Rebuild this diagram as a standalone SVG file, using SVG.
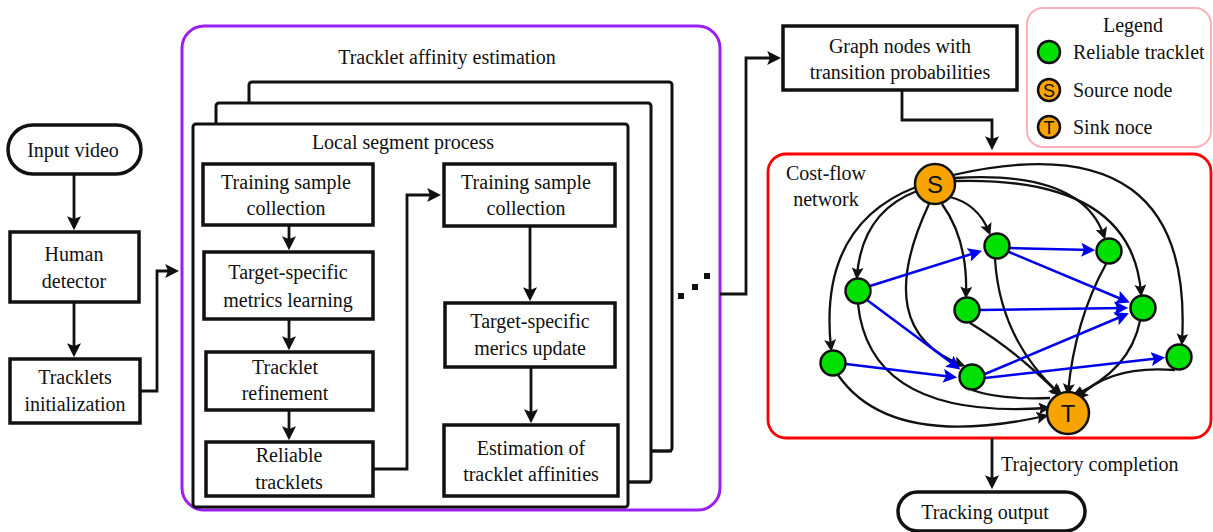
<svg xmlns="http://www.w3.org/2000/svg" width="1213" height="532" viewBox="0 0 1213 532">
<defs>
<style>
text{font-family:"Liberation Serif","Times New Roman",serif;font-size:20px;fill:#111;text-anchor:middle}
.box{fill:#fff;stroke:#111;stroke-width:3.5}
.frame{fill:#fff;stroke:#111;stroke-width:3}
.ln{fill:none;stroke:#111;stroke-width:2.8}
.ge{fill:none;stroke:#111;stroke-width:2.3}
.be{fill:none;stroke:#0000ee;stroke-width:2.5}
.green{fill:#00e000;stroke:#111;stroke-width:2.5}
.orange{fill:#f7a400;stroke:#111;stroke-width:2.5}
.nl{font-family:"Liberation Sans",Arial,sans-serif;font-size:24px}
.ll{font-family:"Liberation Sans",Arial,sans-serif;font-size:18px}
.st{text-anchor:start}
</style>
<marker id="ah" viewBox="0 0 10 10" refX="7" refY="5" markerWidth="14" markerHeight="14" markerUnits="userSpaceOnUse" orient="auto"><path d="M0,0 L10,5 L0,10 L2,5 z" fill="#111"/></marker>
<marker id="gh" viewBox="0 0 10 10" refX="7" refY="5" markerWidth="12" markerHeight="12" markerUnits="userSpaceOnUse" orient="auto"><path d="M0,0 L10,5 L0,10 L2,5 z" fill="#111"/></marker>
<marker id="bh" viewBox="0 0 10 10" refX="7" refY="5" markerWidth="14" markerHeight="14" markerUnits="userSpaceOnUse" orient="auto"><path d="M0,0 L10,5 L0,10 L2,5 z" fill="#0000ee"/></marker>
</defs>
<rect width="1213" height="532" fill="#fff"/>

<g id="tracklet-affinity">
<rect x="182" y="26" width="538" height="484" rx="22" fill="#fff" stroke="#9a1ff0" stroke-width="3"/>
<text x="447" y="64">Tracklet affinity estimation</text>
<rect class="frame" x="249" y="82" width="423" height="369" rx="3"/>
<rect class="frame" x="216" y="103" width="435" height="379" rx="3"/>
<rect class="frame" x="193" y="124" width="435" height="383" rx="3"/>
<text x="403" y="149">Local segment process</text>
<rect x="678" y="293" width="6" height="6" fill="#111"/>
<rect x="692" y="284" width="6" height="6" fill="#111"/>
<rect x="704" y="273" width="6" height="6" fill="#111"/>
</g>

<g id="input-video">
<rect class="box" x="8" y="125" width="133" height="49" rx="24.5" stroke-width="3"/>
<text x="73" y="157">Input video</text>
</g>
<g id="human-detector">
<rect class="box" x="10" y="232" width="129" height="70"/>
<text x="74" y="261">Human</text>
<text x="74" y="288">detector</text>
</g>
<g id="tracklets-init">
<rect class="box" x="10" y="359" width="130" height="64"/>
<text x="75" y="384">Tracklets</text>
<text x="75" y="411">initialization</text>
</g>

<g id="training1">
<rect class="box" x="203" y="164" width="170" height="61"/>
<text x="286" y="189">Training sample</text>
<text x="286" y="215">collection</text>
</g>
<g id="metrics-learning">
<rect class="box" x="204" y="252" width="169" height="67"/>
<text x="288" y="279">Target-specific</text>
<text x="288" y="307">metrics learning</text>
</g>
<g id="tracklet-refinement">
<rect class="box" x="206" y="352" width="167" height="58"/>
<text x="285" y="374">Tracklet</text>
<text x="285" y="400">refinement</text>
</g>
<g id="reliable-tracklets">
<rect class="box" x="206" y="442" width="167" height="54"/>
<text x="289" y="462">Reliable</text>
<text x="289" y="489">tracklets</text>
</g>
<g id="training2">
<rect class="box" x="444" y="164" width="171" height="62"/>
<text x="526" y="189">Training sample</text>
<text x="526" y="215">collection</text>
</g>
<g id="metrics-update">
<rect class="box" x="445" y="303" width="170" height="64"/>
<text x="530" y="328">Target-specific</text>
<text x="530" y="355">merics update</text>
</g>
<g id="estimation">
<rect class="box" x="444" y="425" width="174" height="71"/>
<text x="531" y="455">Estimation of</text>
<text x="531" y="481">tracklet affinities</text>
</g>

<g id="graph-nodes">
<rect class="box" x="783" y="26" width="234" height="64"/>
<text x="900" y="53">Graph nodes with</text>
<text x="900" y="79">transition probabilities</text>
</g>

<g id="legend">
<rect x="1027" y="8" width="184" height="139" rx="16" fill="#fff" stroke="#ffb0b8" stroke-width="2"/>
<text x="1133" y="32">Legend</text>
<circle class="green" cx="1049" cy="52" r="11"/>
<circle class="orange" cx="1049" cy="90" r="11"/>
<text class="ll" x="1049" y="96.5">S</text>
<circle class="orange" cx="1049" cy="127" r="11"/>
<text class="ll" x="1049" y="133.5">T</text>
<text class="st" x="1073" y="59">Reliable tracklet</text>
<text class="st" x="1073" y="97">Source node</text>
<text class="st" x="1073" y="134">Sink noce</text>
</g>

<g id="cost-flow">
<rect x="768" y="154" width="443" height="284" rx="18" fill="#fff" stroke="#ff0000" stroke-width="2.8"/>
<text x="826" y="180">Cost-flow</text>
<text x="826" y="206">network</text>
</g>

<g id="tracking-output">
<rect class="box" x="898" y="492" width="187" height="39" rx="19.5" stroke-width="3"/>
<text x="985" y="519">Tracking output</text>
</g>
<text class="st" x="1001" y="471">Trajectory completion</text>

<g id="connectors">
<path class="ln" d="M74 174 V226" marker-end="url(#ah)"/>
<path class="ln" d="M74 302 V353" marker-end="url(#ah)"/>
<path class="ln" d="M140 391 H157 V271 H175" marker-end="url(#ah)"/>
<path class="ln" d="M289 225 V246" marker-end="url(#ah)"/>
<path class="ln" d="M289 319 V346" marker-end="url(#ah)"/>
<path class="ln" d="M289 410 V436" marker-end="url(#ah)"/>
<path class="ln" d="M373 469 H407 V195 H437" marker-end="url(#ah)"/>
<path class="ln" d="M530 226 V297" marker-end="url(#ah)"/>
<path class="ln" d="M531 367 V419" marker-end="url(#ah)"/>
<path class="ln" d="M628 482 H651"/>
<path class="ln" d="M651 451 H672"/>
<path class="ln" d="M720 294 H746 V58 H777" marker-end="url(#ah)"/>
<path class="ln" d="M902 90 V120 H992 V146" marker-end="url(#ah)"/>
<path class="ln" d="M992 438 V485" marker-end="url(#ah)"/>
</g>

<g id="graph-edges">
<path class="ge" d="M950 197 Q978 204 989 232" marker-end="url(#gh)"/>
<path class="ge" d="M954 178 Q1082 170 1104 236" marker-end="url(#gh)"/>
<path class="ge" d="M955 181 Q1132 176 1141 293" marker-end="url(#gh)"/>
<path class="ge" d="M953 175 Q1195 120 1182 342" marker-end="url(#gh)"/>
<path class="ge" d="M917 191 Q862 212 857 276" marker-end="url(#gh)"/>
<path class="ge" d="M916 187 Q818 225 831 348" marker-end="url(#gh)"/>
<path class="ge" d="M942 204 Q968 240 966 295" marker-end="url(#gh)"/>
<path class="ge" d="M929 204 Q870 330 962 365" marker-end="url(#gh)"/>
<path class="ge" d="M995 259 Q1000 340 1060 394" marker-end="url(#gh)"/>
<path class="ge" d="M1106 264 Q1075 320 1068 392" marker-end="url(#gh)"/>
<path class="ge" d="M858 304 Q870 420 1047 408" marker-end="url(#gh)"/>
<path class="ge" d="M970 323 Q1015 350 1058 393" marker-end="url(#gh)"/>
<path class="ge" d="M1140 321 Q1130 370 1075 395" marker-end="url(#gh)"/>
<path class="ge" d="M838 375 Q890 450 1045 416" marker-end="url(#gh)"/>
<path class="ge" d="M972 390 Q1000 400 1050 398"/>
<path class="ge" d="M1175 370 Q1110 365 1079 397" marker-end="url(#gh)"/>
<path class="be" d="M870 286 L978 252" marker-end="url(#bh)"/>
<path class="be" d="M867 300 L957 367" marker-end="url(#bh)"/>
<path class="be" d="M1010 248 L1091 250" marker-end="url(#bh)"/>
<path class="be" d="M1009 252 L1126 301" marker-end="url(#bh)"/>
<path class="be" d="M980 310 L1124 308" marker-end="url(#bh)"/>
<path class="be" d="M846 364 L953 377" marker-end="url(#bh)"/>
<path class="be" d="M985 374 L1125 315" marker-end="url(#bh)"/>
<path class="be" d="M985 378 L1161 358" marker-end="url(#bh)"/>
</g>

<g id="graph-nodes-circles">
<circle class="orange" cx="935" cy="184" r="20"/>
<text class="nl" x="935" y="193">S</text>
<circle class="orange" cx="1068" cy="413" r="21"/>
<text class="nl" x="1068" y="422">T</text>
<circle class="green" cx="997" cy="246" r="12.5"/>
<circle class="green" cx="1109" cy="251" r="12.5"/>
<circle class="green" cx="858" cy="291" r="12.5"/>
<circle class="green" cx="967" cy="310" r="12.5"/>
<circle class="green" cx="1143" cy="308" r="12.5"/>
<circle class="green" cx="833" cy="363" r="12.5"/>
<circle class="green" cx="972" cy="377" r="12.5"/>
<circle class="green" cx="1179" cy="357" r="12.5"/>
</g>
</svg>
